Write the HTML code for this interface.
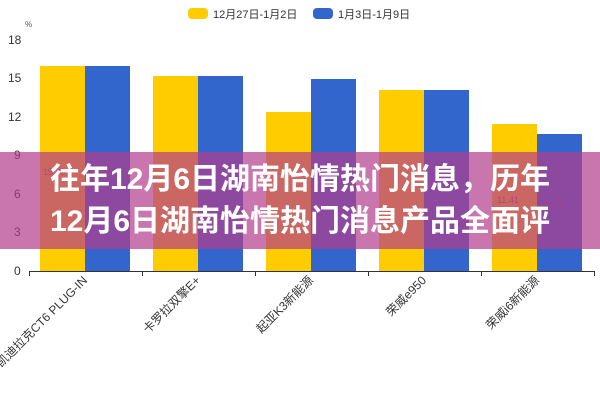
<!DOCTYPE html>
<html><head><meta charset="utf-8"><style>
body{margin:0;width:600px;height:400px;background:#fff;overflow:hidden;position:relative;font-family:"Liberation Sans","Noto Sans CJK SC",sans-serif}
svg{position:absolute;left:0;top:0}
.banner{position:absolute;left:0;top:152px;width:600px;height:97px;background:rgba(180,60,140,0.7)}
.t{position:absolute;left:0;width:600px;text-align:center;color:#fff;font-weight:bold;font-size:30px;line-height:42px;font-family:"Liberation Sans","Noto Sans CJK SC",sans-serif;white-space:nowrap}
</style></head><body>
<svg width="600" height="400" font-family="Liberation Sans, Noto Sans CJK SC, sans-serif">
<rect x="188" y="8" width="20" height="11" rx="4" fill="#ffcc00"/>
<text x="213" y="18" font-size="11" fill="#333">12月27日-1月2日</text>
<rect x="313" y="8" width="20" height="11" rx="4" fill="#3366cc"/>
<text x="338" y="18" font-size="11" fill="#333">1月3日-1月9日</text>
<text x="25" y="27" font-size="8" fill="#555">%</text>
<g font-size="12" fill="#333">
<text x="8" y="44">18</text><text x="8" y="82">15</text><text x="8" y="121">12</text>
<text x="14" y="159">9</text><text x="14" y="198">6</text><text x="14" y="236">3</text><text x="14" y="275">0</text>
</g>
<g>
<rect x="40" y="66" width="45" height="205" fill="#ffcc00"/><rect x="85" y="66" width="45" height="205" fill="#3366cc"/>
<rect x="153" y="76" width="45" height="195" fill="#ffcc00"/><rect x="198" y="76" width="45" height="195" fill="#3366cc"/>
<rect x="266" y="112" width="45" height="159" fill="#ffcc00"/><rect x="311" y="79" width="45" height="192" fill="#3366cc"/>
<rect x="379" y="90" width="45" height="181" fill="#ffcc00"/><rect x="424" y="90" width="45" height="181" fill="#3366cc"/>
<rect x="492" y="124" width="45" height="147" fill="#ffcc00"/><rect x="537" y="134" width="45" height="137" fill="#3366cc"/>
</g>
<g font-size="9" fill="#8a4a6a" opacity="0.8">
<text x="43" y="175">15.99</text><text x="88" y="175">15.99</text>
<text x="497" y="203">11.41</text><text x="542" y="207">10.72</text>
</g>
<g stroke="#333" stroke-width="1">
<line x1="29" y1="271.5" x2="595" y2="271.5"/>
<line x1="29.5" y1="271" x2="29.5" y2="276"/><line x1="142.5" y1="271" x2="142.5" y2="276"/>
<line x1="255.5" y1="271" x2="255.5" y2="276"/><line x1="368.5" y1="271" x2="368.5" y2="276"/>
<line x1="481.5" y1="271" x2="481.5" y2="276"/><line x1="594.5" y1="271" x2="594.5" y2="276"/>
</g>
<g font-size="12" fill="#333" text-anchor="end">
<text transform="translate(88,281) rotate(-45)">凯迪拉克CT6 PLUG-IN</text>
<text transform="translate(201,281) rotate(-45)">卡罗拉双擎E+</text>
<text transform="translate(314,281) rotate(-45)">起亚K3新能源</text>
<text transform="translate(427,281) rotate(-45)">荣威e950</text>
<text transform="translate(540,281) rotate(-45)">荣威i6新能源</text>
</g>
</svg>
<div class="banner"></div>
<div class="t" style="top:159px">往年12月6日湖南怡情热门消息，历年</div>
<div class="t" style="top:201px">12月6日湖南怡情热门消息产品全面评</div>
</body></html>
